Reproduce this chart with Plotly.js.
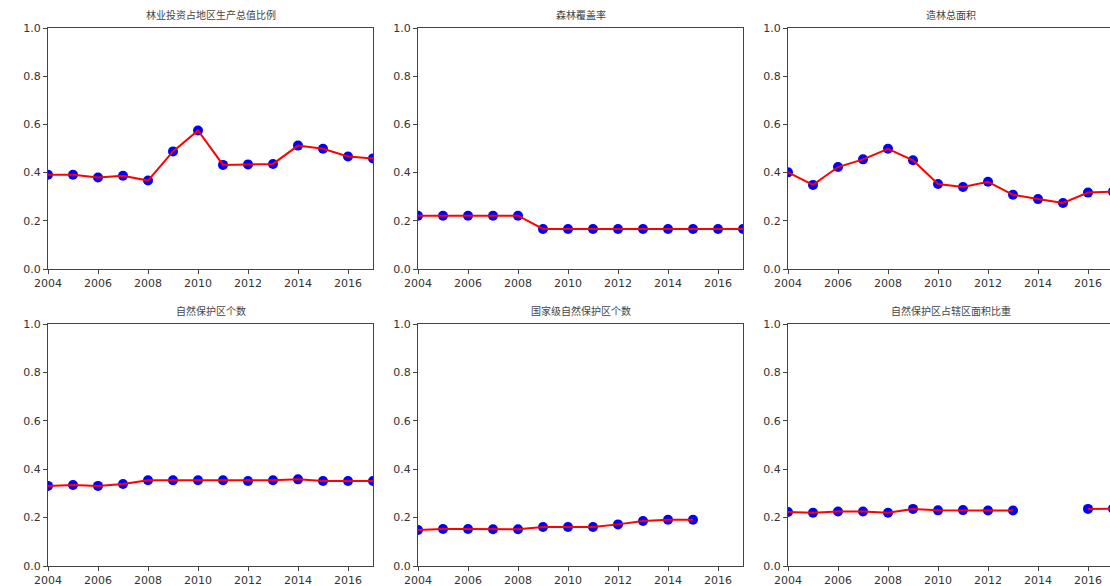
<!DOCTYPE html>
<html>
<head>
<meta charset="utf-8">
<script src="https://cdn.plot.ly/plotly-3.0.1.min.js"></script>
<style>
  html, body { margin: 0; padding: 0; overflow: hidden; background: #fff; }
  #chart { width: 1130px; height: 586px; }
</style>
</head>
<body>
<div id="chart"></div>
<script>
// Years shared by every panel
const years = [2004, 2005, 2006, 2007, 2008, 2009, 2010, 2011, 2012, 2013, 2014, 2015, 2016, 2017];

// Panel titles
const titles = [
  "林业投资占地区生产总值比例",
  "森林覆盖率",
  "造林总面积",
  "自然保护区个数",
  "国家级自然保护区个数",
  "自然保护区占辖区面积比重"
];

// Normalised indicator values (null = missing year)
const forestInvestRatio = [0.391, 0.391, 0.380, 0.387, 0.367, 0.488, 0.575, 0.432, 0.434, 0.436, 0.512, 0.499, 0.467, 0.459];
const forestCoverage    = [0.221, 0.221, 0.221, 0.221, 0.221, 0.166, 0.166, 0.166, 0.166, 0.166, 0.166, 0.166, 0.166, 0.166];
const afforestationArea = [0.401, 0.349, 0.423, 0.455, 0.499, 0.451, 0.353, 0.340, 0.362, 0.308, 0.290, 0.274, 0.317, 0.321];
const reserveCount      = [0.331, 0.335, 0.331, 0.339, 0.354, 0.354, 0.354, 0.354, 0.351, 0.354, 0.358, 0.351, 0.351, 0.351];
const nationalReserves  = [0.149, 0.153, 0.153, 0.152, 0.152, 0.161, 0.161, 0.161, 0.172, 0.186, 0.191, 0.191, null, null];
const reserveAreaShare  = [0.223, 0.220, 0.225, 0.225, 0.220, 0.236, 0.230, 0.231, 0.229, 0.229, null, null, 0.236, 0.237];

const series = [forestInvestRatio, forestCoverage, afforestationArea, reserveCount, nationalReserves, reserveAreaShare];

const W = 1065;           // plot-area width in px
const xDomains = [[0, 325 / W], [370 / W, 695 / W], [740 / W, 1]];
const yDomains = [[297 / 538, 1], [0, 242 / 538]];

const traces = [];
const layout = {
  width: 1130,
  height: 586,
  margin: { l: 48, r: 17, t: 28, b: 20 },
  paper_bgcolor: "#fff",
  plot_bgcolor: "#fff",
  showlegend: false,
  hovermode: false,
  font: { family: "DejaVu Sans, sans-serif", size: 11, color: "#333" },
  annotations: []
};

series.forEach((vals, i) => {
  const n = i + 1;
  const xa = n === 1 ? "x" : "x" + n;
  const ya = n === 1 ? "y" : "y" + n;
  // blue dots underneath, red line on top
  traces.push({
    x: years, y: vals, xaxis: xa, yaxis: ya,
    type: "scatter", mode: "markers",
    marker: { color: "#0000ff", size: 10 }
  });
  traces.push({
    x: years, y: vals, xaxis: xa, yaxis: ya,
    type: "scatter", mode: "lines",
    line: { color: "#ff0000", width: 2 },
    connectgaps: false
  });

  const axBase = {
    showgrid: false, zeroline: false,
    showline: true, mirror: true, linecolor: "#444", linewidth: 1,
    ticks: "outside", ticklen: 4, tickcolor: "#444",
    tickfont: { family: "DejaVu Sans, sans-serif", size: 11, color: "#333" }
  };
  const row = i < 3 ? 0 : 1;
  const col = i % 3;
  layout[n === 1 ? "xaxis" : "xaxis" + n] = Object.assign({}, axBase, {
    domain: xDomains[col], anchor: ya,
    range: [2004, 2017], tickmode: "array",
    tickvals: [2004, 2006, 2008, 2010, 2012, 2014, 2016]
  });
  layout[n === 1 ? "yaxis" : "yaxis" + n] = Object.assign({}, axBase, {
    domain: yDomains[row], anchor: xa,
    range: [0, 1], tickmode: "array",
    tickvals: [0, 0.2, 0.4, 0.6, 0.8, 1.0], tickformat: ".1f"
  });
  layout.annotations.push({
    text: titles[i],
    xref: "paper", yref: "paper",
    x: (xDomains[col][0] + xDomains[col][1]) / 2,
    y: yDomains[row][1],
    xanchor: "center", yanchor: "bottom", yshift: 4,
    showarrow: false,
    font: { family: "Noto Sans CJK SC, sans-serif", size: 10, color: "#444" }
  });
});

Plotly.newPlot("chart", traces, layout, { staticPlot: true });
</script>
</body>
</html>
